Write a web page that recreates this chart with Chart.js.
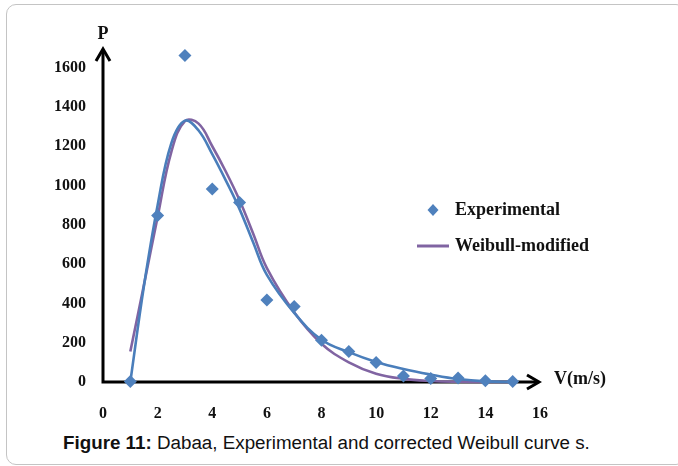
<!DOCTYPE html>
<html><head><meta charset="utf-8">
<script src="https://cdn.jsdelivr.net/npm/chart.js@4"></script>
<style>
html,body{margin:0;padding:0;background:#fff;width:678px;height:466px;overflow:hidden;}
#frame{position:absolute;left:6px;top:4px;width:680px;height:461px;border:1px solid #c4c4c4;border-radius:10px;box-sizing:border-box;}
#wrap{position:absolute;left:0;top:0;width:678px;height:430px;}
#caption{position:absolute;left:63px;top:433px;font-family:"Liberation Sans",Arial,sans-serif;font-size:18.8px;line-height:19px;color:#111;white-space:nowrap;}
</style></head>
<body>
<div id="frame"></div>
<div id="wrap"><canvas id="c" width="678" height="430"></canvas></div>
<div id="caption"><b>Figure 11:</b> Dabaa, Experimental and corrected Weibull curve s.</div>
<script>
// ---- data ----
const speedV = [1,2,3,4,5,6,7,8,9,10,11,12,13,14,15];
const experimentalP = [3, 848, 1662, 982, 913, 418, 384, 213, 155, 99, 30, 18, 20, 6, 2];
const curveV = [1,1.5,2,2.5,3,3.5,4,4.5,5,5.5,6,7,8,9,10,11,12,13,14,15];
const weibullP = [0, 490, 900, 1215, 1330, 1280, 1160, 1025, 880, 710, 545, 352, 215, 152, 102, 66, 38, 15, 3, 0];
const weibullModifiedP = [155, 495, 840, 1170, 1328, 1315, 1200, 1070, 925, 755, 580, 355, 195, 100, 42, 16, 5, 1, 0, 0];
const xTickValues = [0,2,4,6,8,10,12,14,16];
const yTickValues = [0,200,400,600,800,1000,1200,1400,1600];
const seriesNames = ['Experimental', 'Weibull-modified', 'Weibull'];
const axisTitles = {x: 'V(m/s)', y: 'P'};

const BLUE = '#4F81BD';
const LBLUE = '#4A7EBB';
const PURPLE = '#8064A2';
const serif = '"Liberation Serif","Times New Roman",serif';

const pts = (xs, ys) => xs.map((x, i) => ({x, y: ys[i]}));

const decor = {
  id: 'decor',
  beforeDatasetsDraw(chart) {
    const {ctx} = chart;
    const xs = chart.scales.x, ys = chart.scales.y;
    const x0 = xs.getPixelForValue(0), y0 = ys.getPixelForValue(0);
    const xEnd = xs.getPixelForValue(xs.max), yEnd = ys.getPixelForValue(ys.max);
    ctx.save();
    ctx.strokeStyle = '#000';
    ctx.lineWidth = 3;
    ctx.lineCap = 'butt';
    ctx.beginPath();
    ctx.moveTo(x0, y0 + 1.5); ctx.lineTo(x0, yEnd + 2);
    ctx.moveTo(x0 - 1.5, y0); ctx.lineTo(xEnd - 2, y0);
    ctx.stroke();
    ctx.lineJoin = 'miter';
    ctx.beginPath();
    ctx.moveTo(x0 - 7, yEnd + 13); ctx.lineTo(x0, yEnd + 1); ctx.lineTo(x0 + 7, yEnd + 13);
    ctx.moveTo(xEnd - 13, y0 - 7); ctx.lineTo(xEnd - 1, y0); ctx.lineTo(xEnd - 13, y0 + 7);
    ctx.stroke();
    ctx.restore();
  },
  afterDraw(chart) {
    const {ctx} = chart;
    const xs = chart.scales.x, ys = chart.scales.y;
    const x0 = xs.getPixelForValue(0), y0 = ys.getPixelForValue(0);
    const xEnd = xs.getPixelForValue(xs.max), yEnd = ys.getPixelForValue(ys.max);
    ctx.save();
    ctx.fillStyle = '#111';
    ctx.font = 'bold 18px ' + serif;
    ctx.textBaseline = 'middle';
    ctx.textAlign = 'center';
    ctx.fillText(axisTitles.y, x0, yEnd - 14);
    ctx.textAlign = 'left';
    ctx.fillText(axisTitles.x, xEnd + 14, y0 - 3);
    // legend
    const ds0 = chart.data.datasets[0], ds1 = chart.data.datasets[1];
    const lx = 433, ly1 = 210, ly2 = 246;
    ctx.fillStyle = ds0.pointBackgroundColor;
    ctx.beginPath();
    ctx.moveTo(lx - 5.5, ly1); ctx.lineTo(lx, ly1 - 6); ctx.lineTo(lx + 5.5, ly1); ctx.lineTo(lx, ly1 + 6);
    ctx.closePath(); ctx.fill();
    ctx.strokeStyle = ds1.borderColor;
    ctx.lineWidth = 3;
    ctx.beginPath(); ctx.moveTo(417, ly2); ctx.lineTo(449, ly2); ctx.stroke();
    ctx.fillStyle = '#111';
    ctx.fillText(ds0.label, 455, ly1);
    ctx.fillText(ds1.label, 455, ly2);
    ctx.restore();
  }
};

new Chart(document.getElementById('c'), {
  type: 'scatter',
  data: {
    datasets: [
      {label: seriesNames[0], data: pts(speedV, experimentalP), showLine: false,
       pointStyle: 'rectRot', pointRadius: 6.5, pointBackgroundColor: BLUE, pointBorderWidth: 0,
       borderColor: BLUE, order: 0, clip: false},
      {label: seriesNames[1], data: pts(curveV, weibullModifiedP), showLine: true, tension: 0.4,
       borderColor: PURPLE, borderWidth: 2.6, pointRadius: 0, order: 2, clip: false},
      {label: seriesNames[2], data: pts(curveV, weibullP), showLine: true, tension: 0.4,
       borderColor: LBLUE, borderWidth: 2.6, pointRadius: 0, order: 1, clip: false}
    ]
  },
  options: {
    responsive: false,
    animation: false,
    events: [],
    layout: {padding: {left: 0, top: 48, right: 138, bottom: 0}},
    plugins: {legend: {display: false}, tooltip: {enabled: false}},
    scales: {
      x: {type: 'linear', min: 0, max: 16,
          afterBuildTicks: s => { s.ticks = xTickValues.map(v => ({value: v})); },
          afterFit: s => { s.height = 48; },
          grid: {display: false, drawTicks: false}, border: {display: false},
          ticks: {padding: 22, color: '#111', callback: v => String(v),
                  font: {family: serif, size: 16, weight: 'bold'}, maxRotation: 0}},
      y: {type: 'linear', min: 0, max: 1700,
          afterBuildTicks: s => { s.ticks = yTickValues.map(v => ({value: v})); },
          afterFit: s => { s.width = 103; },
          grid: {display: false, drawTicks: false}, border: {display: false},
          ticks: {padding: 17, color: '#111', callback: v => String(v),
                  font: {family: serif, size: 16, weight: 'bold'}}}
    }
  },
  plugins: [decor]
});
</script>
</body></html>
